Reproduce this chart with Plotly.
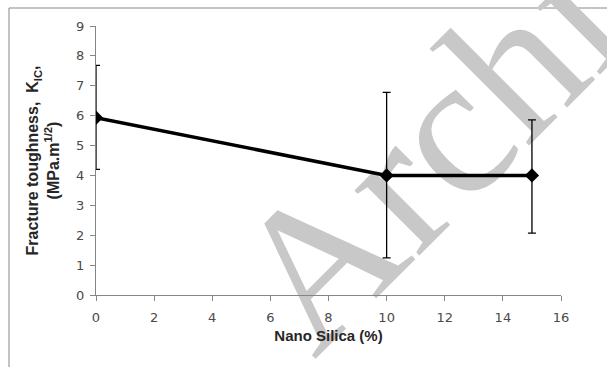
import plotly.graph_objects as go

# Data
nano_silica = [0, 10, 15]
toughness = [5.93, 4.0, 4.0]
err_plus = [1.75, 2.78, 1.86]
err_minus = [1.73, 2.76, 1.93]

x_ticks = [0, 2, 4, 6, 8, 10, 12, 14, 16]
y_ticks = [0, 1, 2, 3, 4, 5, 6, 7, 8, 9]

W, H = 607, 367
ml, mr, mt, mb = 96, 46, 26, 72
pw, ph = W - ml - mr, H - mt - mb

def px_to_paper_x(px):
    return (px - ml) / pw

def px_to_paper_y(py):
    return (H - mb - py) / ph

fig = go.Figure()
fig.add_trace(go.Scatter(
    x=nano_silica, y=toughness,
    mode="lines+markers",
    line=dict(color="black", width=3.5),
    marker=dict(symbol="diamond", size=11, color="black"),
    error_y=dict(type="data", symmetric=False, array=err_plus, arrayminus=err_minus,
                 color="black", thickness=1.3, width=4),
    showlegend=False,
))

axis_common = dict(
    showgrid=False, zeroline=False, showline=True, linecolor="#868686", linewidth=1,
    ticks="outside", tickcolor="#868686", ticklen=5,
    tickfont=dict(family="DejaVu Sans", size=13, color="#4a4a4a"),
)

fig.update_xaxes(range=[0, 16], tickvals=x_ticks, ticktext=[str(v) for v in x_ticks],
                 ticklabelstandoff=5,
                 title=dict(text="<b>Nano Silica (%)</b>",
                            font=dict(family="Liberation Sans", size=15, color="#262626"),
                            standoff=6),
                 **axis_common)
fig.update_yaxes(range=[0, 9], tickvals=y_ticks, ticktext=[str(v) for v in y_ticks],
                 ticklabelstandoff=3,
                 title=dict(text="<b>Fracture toughness,  K<sub>IC</sub>,<br>(MPa.m<sup>1/2</sup>)</b>",
                            font=dict(family="Liberation Sans", size=16, color="#262626"),
                            standoff=12),
                 **axis_common)

# outer frame
fig.add_shape(type="rect", xref="paper", yref="paper",
              x0=px_to_paper_x(9), x1=px_to_paper_x(640),
              y0=px_to_paper_y(400), y1=px_to_paper_y(8),
              line=dict(color="#888888", width=1), fillcolor="rgba(0,0,0,0)", layer="below")

# watermark, drawn below the data as a shape label
cx, cy = 412, 136
fig.add_shape(type="rect", xref="paper", yref="paper",
              x0=px_to_paper_x(cx - 5), x1=px_to_paper_x(cx + 5),
              y0=px_to_paper_y(cy + 5), y1=px_to_paper_y(cy - 5),
              line=dict(width=0), fillcolor="rgba(0,0,0,0)", layer="below",
              label=dict(text="Archi", textangle=-45, textposition="middle center",
                         font=dict(family="Liberation Serif", size=200, color="#c8c8c8")))

fig.update_layout(
    width=W, height=H,
    margin=dict(l=ml, r=mr, t=mt, b=mb),
    paper_bgcolor="white", plot_bgcolor="white",
)

fig.write_html("out.html")
